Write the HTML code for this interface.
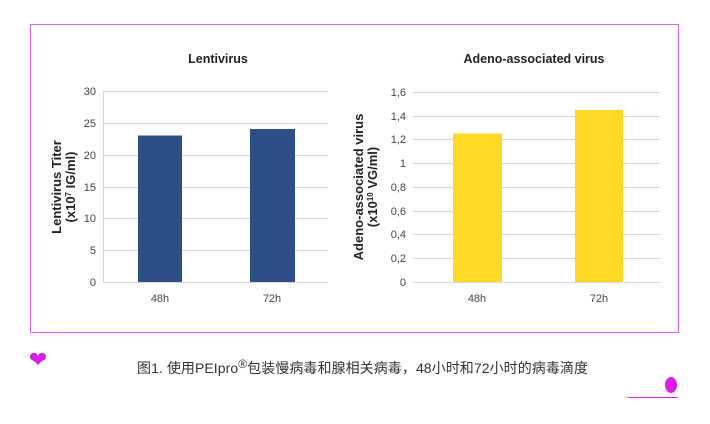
<!DOCTYPE html>
<html><head><meta charset="utf-8"><style>
body{margin:0;width:710px;height:419px;background:#fff;overflow:hidden;font-family:"Liberation Sans","Noto Sans CJK SC",sans-serif}
</style></head><body>
<svg width="710" height="419" xmlns="http://www.w3.org/2000/svg" font-family="Liberation Sans, Noto Sans CJK SC, sans-serif">
<rect x="30.5" y="24.5" width="648" height="308" fill="none" stroke="#d966e8" stroke-width="1"/>
<g font-size="11" fill="#444" text-anchor="end">
<g stroke="#d9d9d9" stroke-width="1">
<line x1="103" x2="328" y1="91.5" y2="91.5"/><line x1="103" x2="328" y1="123.5" y2="123.5"/><line x1="103" x2="328" y1="155.5" y2="155.5"/><line x1="103" x2="328" y1="187.5" y2="187.5"/><line x1="103" x2="328" y1="218.5" y2="218.5"/><line x1="103" x2="328" y1="250.5" y2="250.5"/><line x1="103" x2="328" y1="282.5" y2="282.5"/>
<line x1="103.5" x2="103.5" y1="91" y2="282"/>
</g>
<text x="96" y="95">30</text><text x="96" y="127">25</text><text x="96" y="159">20</text><text x="96" y="191">15</text><text x="96" y="222">10</text><text x="96" y="254">5</text><text x="96" y="286">0</text>
<rect x="138" y="135.5" width="44" height="146.5" fill="#2d4f86"/>
<rect x="250" y="129" width="45" height="153" fill="#2d4f86"/>
<text x="160" y="302" text-anchor="middle">48h</text><text x="272" y="302" text-anchor="middle">72h</text>
<text x="218" y="63" text-anchor="middle" font-weight="bold" font-size="12.5" fill="#222">Lentivirus</text>
<text transform="translate(61,187) rotate(-90)" text-anchor="middle" font-weight="bold" font-size="13" fill="#222">Lentivirus Titer</text>
<text transform="translate(75,187) rotate(-90)" text-anchor="middle" font-weight="bold" font-size="13" fill="#222">(x10<tspan font-size="8" dy="-4">7</tspan><tspan dy="4"> IG/ml)</tspan></text>

<g stroke="#d9d9d9" stroke-width="1">
<line x1="413" x2="660" y1="92.5" y2="92.5"/><line x1="413" x2="660" y1="116.5" y2="116.5"/><line x1="413" x2="660" y1="139.5" y2="139.5"/><line x1="413" x2="660" y1="163.5" y2="163.5"/><line x1="413" x2="660" y1="187.5" y2="187.5"/><line x1="413" x2="660" y1="211.5" y2="211.5"/><line x1="413" x2="660" y1="234.5" y2="234.5"/><line x1="413" x2="660" y1="258.5" y2="258.5"/><line x1="413" x2="660" y1="282.5" y2="282.5"/>
</g>
<text x="406" y="96">1,6</text><text x="406" y="120">1,4</text><text x="406" y="143">1,2</text><text x="406" y="167">1</text><text x="406" y="191">0,8</text><text x="406" y="215">0,6</text><text x="406" y="238">0,4</text><text x="406" y="262">0,2</text><text x="406" y="286">0</text>
<rect x="453" y="133.5" width="49" height="148.5" fill="#fdd825"/>
<rect x="575" y="110" width="48" height="172" fill="#fdd825"/>
<text x="477" y="302" text-anchor="middle">48h</text><text x="599" y="302" text-anchor="middle">72h</text>
<text x="534" y="63" text-anchor="middle" font-weight="bold" font-size="12.5" fill="#222">Adeno-associated virus</text>
<text transform="translate(363,187) rotate(-90)" text-anchor="middle" font-weight="bold" font-size="13" fill="#222">Adeno-associated virus</text>
<text transform="translate(377,187) rotate(-90)" text-anchor="middle" font-weight="bold" font-size="13" fill="#222">(x10<tspan font-size="8" dy="-4">10</tspan><tspan dy="4"> VG/ml)</tspan></text>
</g>
<text x="137" y="373" font-size="14" fill="#333" textLength="451">图1. 使用PEIpro<tspan font-size="12" dy="-5">®</tspan><tspan dy="5">包装慢病毒和腺相关病毒，48小时和72小时的病毒滴度</tspan></text>
<text x="38" y="367" font-size="22" fill="#d81ee8" text-anchor="middle">❤</text>
<ellipse cx="671" cy="385" rx="6" ry="8" fill="#d81ee8"/>
<line x1="628" x2="678" y1="397.5" y2="397.5" stroke="#d81ee8" stroke-width="1"/>
</svg>
</body></html>
